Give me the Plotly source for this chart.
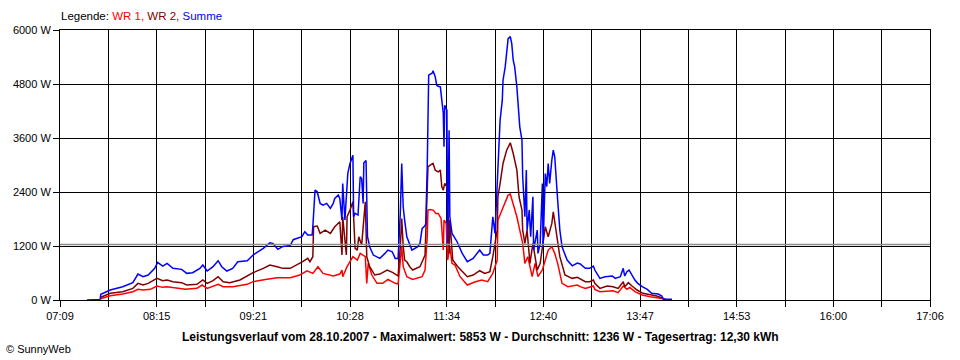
import plotly.graph_objects as go

# ---------------- data ----------------
summe_t = ["07:27:30","07:36:30","07:37:00","07:43:30","07:52:00","07:59:00","08:02:30","08:06:00","08:09:30","08:14:00",
           "08:16:00","08:19:30","08:22:30","08:26:30","08:32:30","08:36:00","08:40:00","08:45:00","08:47:00","08:50:00",
           "08:54:00","08:57:30","09:00:00","09:03:30","09:07:30","09:11:00","09:17:30","09:21:30","09:28:30","09:33:00",
           "09:35:00","09:38:30","09:42:00","09:47:00","09:49:00","09:55:00","09:57:00","09:59:00","10:02:00","10:02:30",
           "10:04:00","10:05:30","10:07:30","10:09:30","10:12:00","10:14:30","10:16:30","10:17:30","10:20:00","10:21:00",
           "10:22:30","10:23:00","10:24:30","10:26:00","10:26:30","10:28:00","10:29:30","10:30:00","10:30:30","10:31:30",
           "10:33:30","10:35:00","10:36:00","10:37:00","10:37:30","10:39:00","10:40:00","10:41:30","10:44:00","10:48:30",
           "10:52:00","10:54:00","10:57:00","10:59:00","11:01:00","11:02:30","11:03:30","11:04:30","11:05:30","11:07:00",
           "11:10:30","11:12:30","11:14:30","11:16:00","11:17:30","11:19:30","11:20:00","11:21:00","11:21:30","11:22:00",
           "11:24:30","11:25:00","11:26:30","11:27:30","11:28:30","11:30:00","11:31:00","11:32:00","11:32:30","11:33:00",
           "11:34:30","11:35:00","11:36:00","11:36:30","11:38:00","11:39:30","11:41:30","11:45:00","11:48:30","11:52:30",
           "11:57:00","11:59:30","12:02:30","12:04:00","12:06:00","12:07:30","12:09:00","12:09:30","12:11:00","12:12:30",
           "12:13:00","12:14:30","12:15:30","12:16:30","12:18:00","12:19:00","12:20:00","12:21:00","12:22:30","12:23:30",
           "12:24:30","12:26:00","12:26:30","12:28:00","12:29:00","12:29:30","12:31:00","12:32:00","12:33:30","12:34:00",
           "12:36:30","12:37:00","12:38:30","12:40:00","12:40:30","12:42:00","12:43:00","12:44:00","12:45:00","12:46:30",
           "12:47:30","12:48:30","12:50:00","12:50:30","12:52:00","12:53:30","12:57:00","13:00:30","13:04:00","13:06:00",
           "13:09:30","13:12:30","13:15:00","13:16:00","13:19:30","13:23:00","13:28:00","13:30:00","13:33:30","13:35:30",
           "13:36:30","13:38:00","13:39:30","13:41:30","13:43:30","13:45:30","13:48:30","13:52:00","13:55:00","13:59:30",
           "14:02:00","14:03:00","14:09:00"]
summe_w = [0,10,127,222,296,385,577,518,555,703,
           837,755,814,703,681,592,607,703,777,644,
           740,873,740,644,703,851,873,999,1148,1273,
           1259,1126,1190,1210,1340,1406,1517,1443,1443,1628,
           2442,2405,2146,2109,2146,2035,2146,2257,2331,2257,
           1776,2590,1776,2627,2812,3035,3182,3219,1850,1925,
           1887,2738,2701,2146,3049,3100,1406,1184,999,925,
           1036,1110,1073,925,925,1925,3035,2072,1776,1406,
           1110,1150,1184,1258,1591,1650,1702,2960,4588,4995,
           5047,5092,4958,4773,4751,4736,4440,4150,3404,4329,
           4218,1258,3774,1850,1480,1406,1295,1036,851,925,
           1110,999,999,1036,1850,1480,2442,3035,3996,4440,
           4884,5180,5476,5809,5853,5698,5328,5180,4736,4366,
           3848,3552,2738,1850,2886,1554,1998,1406,2294,1110,
           1554,1036,1258,2590,1184,2812,2516,3035,2590,3108,
           3330,3182,2590,2220,1554,1184,888,760,821,800,
           703,703,755,666,481,518,533,481,518,703,
           533,629,666,555,444,370,296,237,148,133,
           89,15,15]

wr2_t = ["07:37:00","07:38:00","07:43:30","07:52:00","07:59:00","08:02:30","08:06:00","08:09:30","08:15:30","08:19:30",
         "08:22:30","08:26:30","08:32:30","08:36:00","08:43:00","08:47:00","08:50:00","08:54:00","08:57:30","09:01:00",
         "09:05:30","09:12:30","09:21:30","09:28:30","09:33:00","09:38:00","09:42:00","09:47:00","09:51:30","09:55:30",
         "09:59:00","10:00:30","10:02:30","10:03:00","10:05:30","10:07:30","10:11:00","10:14:30","10:17:30","10:21:00",
         "10:22:30","10:23:00","10:25:30","10:26:00","10:28:00","10:30:00","10:31:30","10:33:00","10:34:00","10:36:00",
         "10:38:30","10:39:30","10:41:30","10:45:00","10:48:30","10:53:30","10:57:30","11:01:00","11:02:30","11:03:30",
         "11:04:30","11:05:30","11:07:00","11:09:00","11:11:00","11:16:00","11:19:30","11:20:30","11:21:30","11:23:00",
         "11:25:00","11:26:30","11:28:30","11:30:00","11:31:00","11:32:00","11:33:00","11:34:30","11:35:00","11:36:00",
         "11:36:30","11:38:30","11:42:00","11:48:30","11:52:30","11:57:00","12:00:30","12:04:00","12:06:00","12:09:00",
         "12:09:30","12:11:00","12:13:00","12:15:30","12:18:00","12:20:00","12:22:30","12:24:00","12:26:00","12:26:30",
         "12:28:00","12:29:30","12:31:30","12:33:30","12:36:30","12:38:30","12:40:30","12:42:00","12:44:00","12:46:30",
         "12:47:30","12:50:00","12:52:00","12:55:30","13:00:30","13:04:00","13:06:00","13:09:30","13:12:30","13:15:00",
         "13:16:00","13:19:30","13:24:30","13:28:30","13:32:00","13:35:30","13:36:30","13:39:00","13:41:30","13:45:00",
         "13:49:00","13:54:00","13:58:30","14:03:00","14:05:00"]
wr2_w = [60,74,148,185,259,370,333,370,481,429,
         444,407,385,333,348,444,370,429,518,407,
         385,444,607,703,777,740,703,703,777,851,
         925,851,962,1628,1643,1480,1554,1480,1628,1739,
         999,1850,999,1850,1998,2183,1148,1110,1406,1221,
         2183,962,740,555,577,666,607,533,1184,1813,
         1200,888,850,740,666,740,999,1998,2960,2997,
         3035,2886,2849,2886,2516,2442,2590,2516,2220,1036,
         1776,888,740,518,555,651,592,629,962,1554,
         2294,2590,3035,3330,3493,3256,2886,2294,1998,1554,
         1258,1554,814,1258,666,814,1258,1628,1406,1702,
         1961,1406,962,555,481,503,470,407,407,444,
         370,259,311,296,259,407,296,385,311,222,
         148,111,89,37,0]

wr1_t = ["07:37:00","07:38:00","07:43:30","07:52:00","07:59:00","08:02:30","08:06:00","08:11:00","08:15:30","08:19:30",
         "08:22:30","08:26:30","08:35:00","08:43:00","08:46:30","08:50:00","08:54:00","08:57:30","09:01:00","09:07:30",
         "09:17:30","09:21:30","09:31:00","09:38:00","09:47:00","09:53:30","09:58:30","10:02:30","10:06:00","10:09:30",
         "10:16:30","10:21:00","10:22:30","10:23:00","10:26:00","10:28:00","10:30:00","10:33:00","10:35:00","10:38:30",
         "10:39:30","10:40:30","10:43:00","10:46:30","10:50:30","10:54:00","10:59:00","11:01:00","11:02:30","11:03:30",
         "11:04:30","11:07:00","11:11:00","11:17:30","11:19:30","11:21:00","11:21:30","11:23:00","11:25:00","11:27:00",
         "11:28:30","11:30:30","11:32:00","11:32:30","11:34:00","11:35:00","11:36:30","11:38:00","11:40:00","11:43:30",
         "11:48:30","11:54:00","11:58:30","12:02:30","12:06:00","12:09:00","12:09:30","12:12:30","12:14:30","12:16:30",
         "12:18:00","12:20:00","12:22:30","12:24:30","12:26:30","12:28:00","12:30:00","12:33:00","12:35:00","12:37:00",
         "12:40:00","12:42:00","12:44:00","12:46:30","12:48:30","12:50:30","12:53:30","12:57:30","13:04:00","13:06:00",
         "13:09:30","13:15:00","13:16:00","13:19:30","13:28:30","13:32:00","13:35:30","13:38:00","13:40:00","13:43:30",
         "13:48:30","13:54:00","13:58:30","14:03:00","14:04:00"]
wr1_w = [30,37,96,133,185,237,222,237,311,281,
         296,274,237,259,333,259,311,348,296,296,
         348,407,459,496,496,555,650,592,740,592,
         533,577,666,518,740,851,962,888,1036,962,
         370,814,555,370,370,459,370,355,888,1184,
         740,518,459,518,666,1406,1998,2013,1998,1925,
         1925,1813,1110,1776,1702,888,1184,814,777,518,
         333,407,444,407,592,888,1776,1998,2146,2331,
         2353,2146,1850,1554,1258,814,962,518,814,518,
         666,888,1110,1184,1036,814,370,296,333,296,
         259,311,237,185,207,163,311,237,281,185,
         111,74,59,30,0]

x_tick_labels = ["07:09", "08:15", "09:21", "10:28", "11:34", "12:40", "13:47", "14:53", "16:00", "17:06"]
y_ticks = [0, 1200, 2400, 3600, 4800, 6000]
AVERAGE_W = 1236
TITLE = "Leistungsverlauf vom 28.10.2007 - Maximalwert: 5853 W - Durchschnitt: 1236 W - Tagesertrag: 12,30 kWh"


def to_min(s):
    h, m, sec = (int(v) for v in s.split(":"))
    return h * 60 + m + sec / 60.0


def lab_to_min(s):
    h, m = (int(v) for v in s.split(":"))
    return h * 60 + m


x_start = lab_to_min(x_tick_labels[0])
x_end = lab_to_min(x_tick_labels[-1])
n_int = (len(x_tick_labels) - 1) * 2
step = (x_end - x_start) / n_int
tickvals = [x_start + i * step for i in range(n_int + 1)]
ticktext = [x_tick_labels[i // 2] if i % 2 == 0 else "" for i in range(n_int + 1)]

FONT = "Liberation Sans"

fig = go.Figure()
fig.add_trace(go.Scatter(x=[to_min(t) for t in wr1_t], y=wr1_w, mode="lines", name="WR 1",
                         line=dict(color="#ff0000", width=1.5)))
fig.add_trace(go.Scatter(x=[to_min(t) for t in wr2_t], y=wr2_w, mode="lines", name="WR 2",
                         line=dict(color="#800000", width=1.5)))
fig.add_trace(go.Scatter(x=[to_min(t) for t in summe_t], y=summe_w, mode="lines", name="Summe",
                         line=dict(color="#0000ff", width=1.5)))

fig.add_shape(type="line", xref="x", yref="y", x0=x_start, x1=x_end, y0=AVERAGE_W, y1=AVERAGE_W,
              line=dict(color="#8c8c8c", width=1.5), layer="above")

fig.update_layout(
    width=960, height=360,
    margin=dict(l=60, r=30, t=30, b=60),
    paper_bgcolor="white", plot_bgcolor="white",
    showlegend=False,
    font=dict(family=FONT, size=11, color="black"),
)
fig.update_xaxes(range=[x_start, x_end], tickmode="array", tickvals=tickvals, ticktext=ticktext,
                 showgrid=True, gridcolor="black", gridwidth=1,
                 showline=True, linecolor="black", linewidth=1, mirror=True,
                 ticks="outside", ticklen=6, tickcolor="black", zeroline=False,
                 tickfont=dict(family=FONT, size=11))
fig.update_yaxes(range=[0, 6000], tickmode="array", tickvals=y_ticks,
                 ticktext=[f"{v} W" for v in y_ticks],
                 showgrid=True, gridcolor="black", gridwidth=1,
                 showline=True, linecolor="black", linewidth=1, mirror=True,
                 ticks="outside", ticklen=6, tickcolor="black", zeroline=False,
                 tickfont=dict(family=FONT, size=11))

legend_html = ('Legende: <span style="color:#ff0000">WR 1,</span> '
               '<span style="color:#800000">WR 2,</span> '
               '<span style="color:#0000ff">Summe</span>')
fig.add_annotation(text=legend_html, xref="paper", yref="paper", x=0, y=1, xshift=-1, yshift=6,
                   xanchor="left", yanchor="bottom", showarrow=False,
                   font=dict(family=FONT, size=11.5, color="black"))
fig.add_annotation(text="<b>" + TITLE + "</b>", xref="paper", yref="paper", x=(480 - 60) / 870, y=0, yshift=-37,
                   xanchor="center", yanchor="middle", showarrow=False,
                   font=dict(family=FONT, size=12, color="black"))
fig.add_annotation(text="© SunnyWeb", xref="paper", yref="paper", x=-56 / 870, y=0, yshift=-49,
                   xanchor="left", yanchor="middle", showarrow=False,
                   font=dict(family=FONT, size=11, color="black"))

fig.write_html("out.html", config={"displayModeBar": False},
               post_script="document.body.style.margin='0';document.body.style.padding='0';")
